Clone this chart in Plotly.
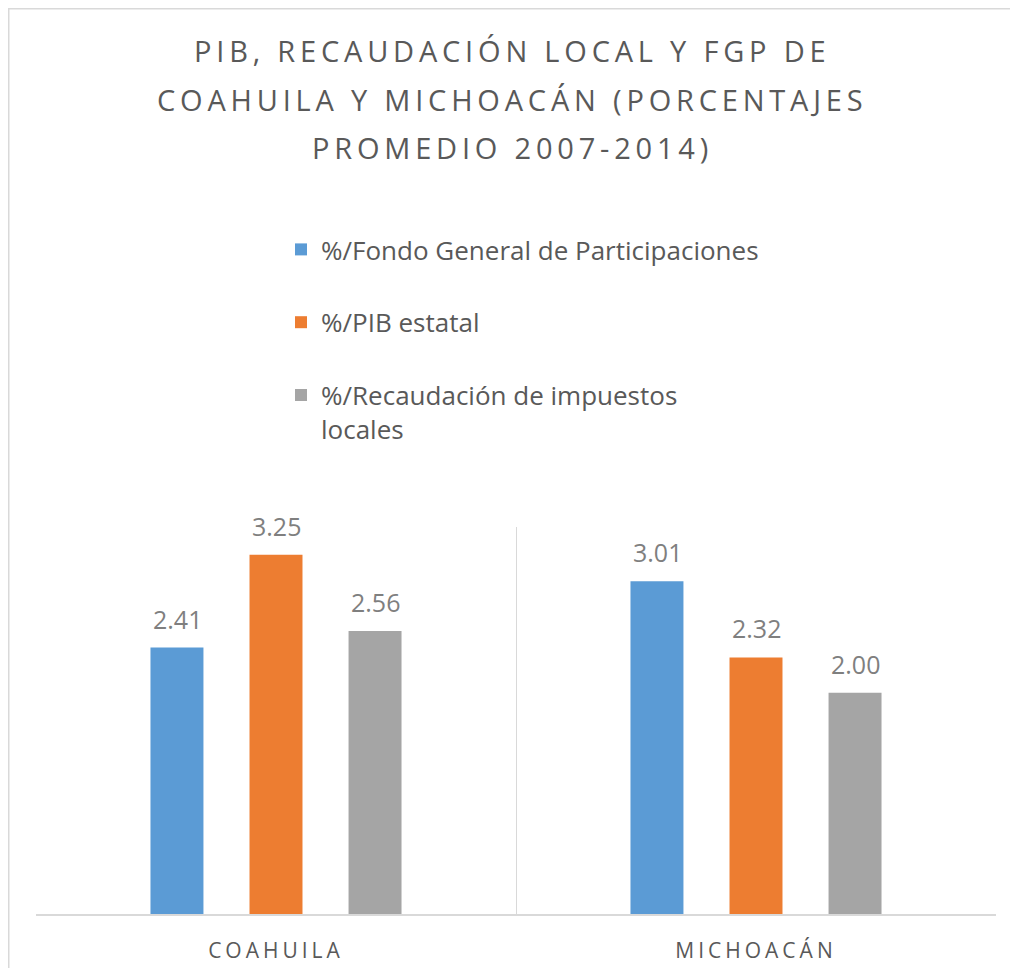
import plotly.graph_objects as go

categories = ["COAHUILA", "MICHOACÁN"]
series_names = [
    "%/Fondo General de Participaciones",
    "%/PIB estatal",
    "%/Recaudación de impuestos<br>locales",
]
fgp = [2.41, 3.01]
pib = [3.25, 2.32]
recaudacion = [2.56, 2.00]
title_lines = [
    "PIB, RECAUDACIÓN LOCAL Y FGP DE",
    "COAHUILA Y MICHOACÁN (PORCENTAJES",
    "PROMEDIO 2007-2014)",
]
colors = ["#5B9BD5", "#ED7D31", "#A5A5A5"]

FONT = "Open Sans"
# page body has an 8px margin, so the figure is 8px smaller than the window
W, H = 1010, 960
ML, MR, MT, MB = 28, 22, 519, 54
PW, PH = W - ML - MR, H - MT - MB
BAR_STEP = 99  # px between neighbouring bars within a group

def px_x(px):
    return (px - ML) / PW

def px_y(py):
    return (H - MB - py) / PH

def spaced(s, px):
    return f'<span style="letter-spacing:{px}px">{s}</span>'

tick_text = [spaced(c, 4) for c in categories]

fig = go.Figure()
annotations = []
all_vals = [fgp, pib, recaudacion]
for i, (name, vals) in enumerate(zip(series_names, all_vals)):
    fig.add_trace(go.Bar(
        x=categories, y=vals, name=name,
        marker=dict(color=colors[i], line=dict(width=0)),
        legendgroup=f"g{i}",
        hoverinfo="x+y+name",
    ))
    for c, v in zip(categories, vals):
        annotations.append(dict(
            x=c, y=v, xref="x", yref="y", text=f"{v:.2f}", showarrow=False,
            xanchor="center", yanchor="middle",
            xshift=(i - 1) * BAR_STEP, yshift=29,
            font=dict(family=FONT, size=25, color="#7F7F7F"),
        ))

for j, line in enumerate(title_lines):
    annotations.append(dict(
        text=spaced(line, 4.8), xref="paper", yref="paper",
        x=px_x(504), y=px_y(43 + 48 * j), xanchor="center", yanchor="middle",
        showarrow=False, font=dict(family=FONT, size=29, color="#595959"),
    ))

fig.update_layout(
    width=W, height=H,
    margin=dict(l=ML, r=MR, t=MT, b=MB, autoexpand=False),
    paper_bgcolor="white", plot_bgcolor="white",
    barmode="group", bargap=0.381, bargroupgap=0.465,
    showlegend=True,
    legend=dict(
        xref="paper", yref="paper",
        x=px_x(273), y=px_y(218), xanchor="left", yanchor="top",
        orientation="v", valign="top", tracegroupgap=36,
        font=dict(family=FONT, size=26, color="#595959"),
        bgcolor="rgba(0,0,0,0)",
    ),
    annotations=annotations,
    xaxis=dict(
        type="category", tickmode="array", tickvals=categories, ticktext=tick_text,
        tickson="boundaries", showgrid=True, gridcolor="#D9D9D9", gridwidth=1,
        showline=True, linecolor="#D9D9D9", linewidth=1.5, tickangle=0,
        ticks="", tickfont=dict(family=FONT, size=21, color="#595959"),
        ticklabelstandoff=17, zeroline=False, automargin=False,
    ),
    yaxis=dict(range=[0, 3.5], visible=False, showgrid=False, zeroline=False),
    shapes=[dict(
        type="rect", xref="paper", yref="paper",
        x0=px_x(0.75), x1=px_x(1040),
        y0=px_y(1000), y1=px_y(0.75),
        line=dict(color="#D9D9D9", width=1.5), fillcolor="rgba(0,0,0,0)", layer="below",
    )],
)

fig.write_html("out.html")
